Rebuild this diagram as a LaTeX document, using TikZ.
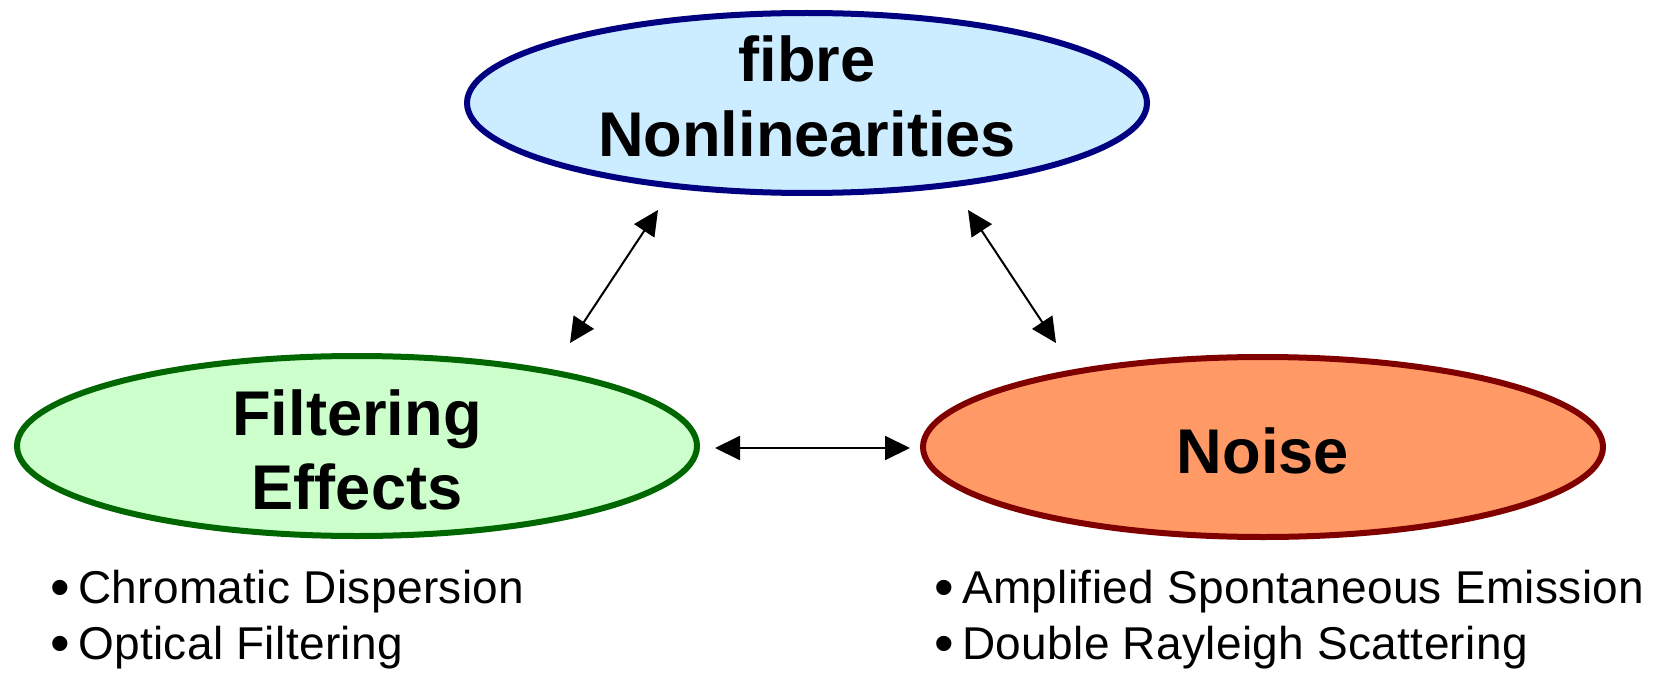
\documentclass[tikz,border=0pt]{standalone}
\usepackage{fontspec}
\setmainfont{Liberation Sans}
\newfontfamily\listfont[LetterSpace=0.8]{Liberation Sans}
\usetikzlibrary{shapes.geometric,arrows.meta}
\definecolor{skyfill}{RGB}{204,236,255}
\definecolor{navyline}{RGB}{0,0,128}
\definecolor{mintfill}{RGB}{204,255,204}
\definecolor{greenline}{RGB}{0,102,0}
\definecolor{salmonfill}{RGB}{255,153,102}
\definecolor{maroonline}{RGB}{128,0,0}
% enlarged list bullet, kept on the x-height
\newcommand\listdot{\raisebox{-1.8pt}{\fontsize{28pt}{28pt}\selectfont•}\kern4pt}
\begin{document}
\begin{tikzpicture}[x=0.5pt,y=-0.5pt,
  topic/.style={ellipse, line width=3pt, minimum width=340pt, minimum height=90pt,
    inner sep=0pt},
  title/.style={anchor=base, inner sep=0pt,
    font=\fontsize{31.6pt}{37pt}\selectfont\bfseries},
  bullet/.style={anchor=base west, inner sep=0pt,
    font=\fontsize{23pt}{28pt}\listfont},
  link/.style={{Triangle[length=12.5pt,width=12pt]}-{Triangle[length=12.5pt,width=12pt]}, line width=1pt}]
\useasboundingbox (0,0) rectangle (1654,674);

% the three effects
\node[topic, draw=navyline, fill=skyfill] (fibre) at (807,103) {};
\node[topic, draw=greenline, fill=mintfill] (filter) at (357,446) {};
\node[topic, draw=maroonline, fill=salmonfill] (noise) at (1263,447) {};

\node[title] (fibreA) at (807,82) {fibre};
\node[title] (fibreB) at (807,156) {Nonlinearities};
\node[title] (filterA) at (357,435) {Filtering};
\node[title] (filterB) at (357,509) {Effects};
\node[title] (noiseA) at (1263,473) {Noise};

% arrow end points between the ellipses
\coordinate (fl) at (658,210);
\coordinate (lf) at (570,343);
\coordinate (fr) at (968,210);
\coordinate (rf) at (1056,343);
\coordinate (lr) at (715,448);
\coordinate (rl) at (910,448);

\draw[link] (lf) -- (fl);
\draw[link] (fr) -- (rf);
\draw[link] (lr) -- (rl);

% bullet lists under the lower ellipses
\node[bullet] (cd) at (50,603) {\listdot Chromatic Dispersion};
\node[bullet] (of) at (50,659) {\listdot Optical Filtering};
\node[bullet] (ase) at (934,603) {\listdot Amplified Spontaneous Emission};
\node[bullet] (drs) at (934,659) {\listdot Double Rayleigh Scattering};
\end{tikzpicture}
\end{document}
